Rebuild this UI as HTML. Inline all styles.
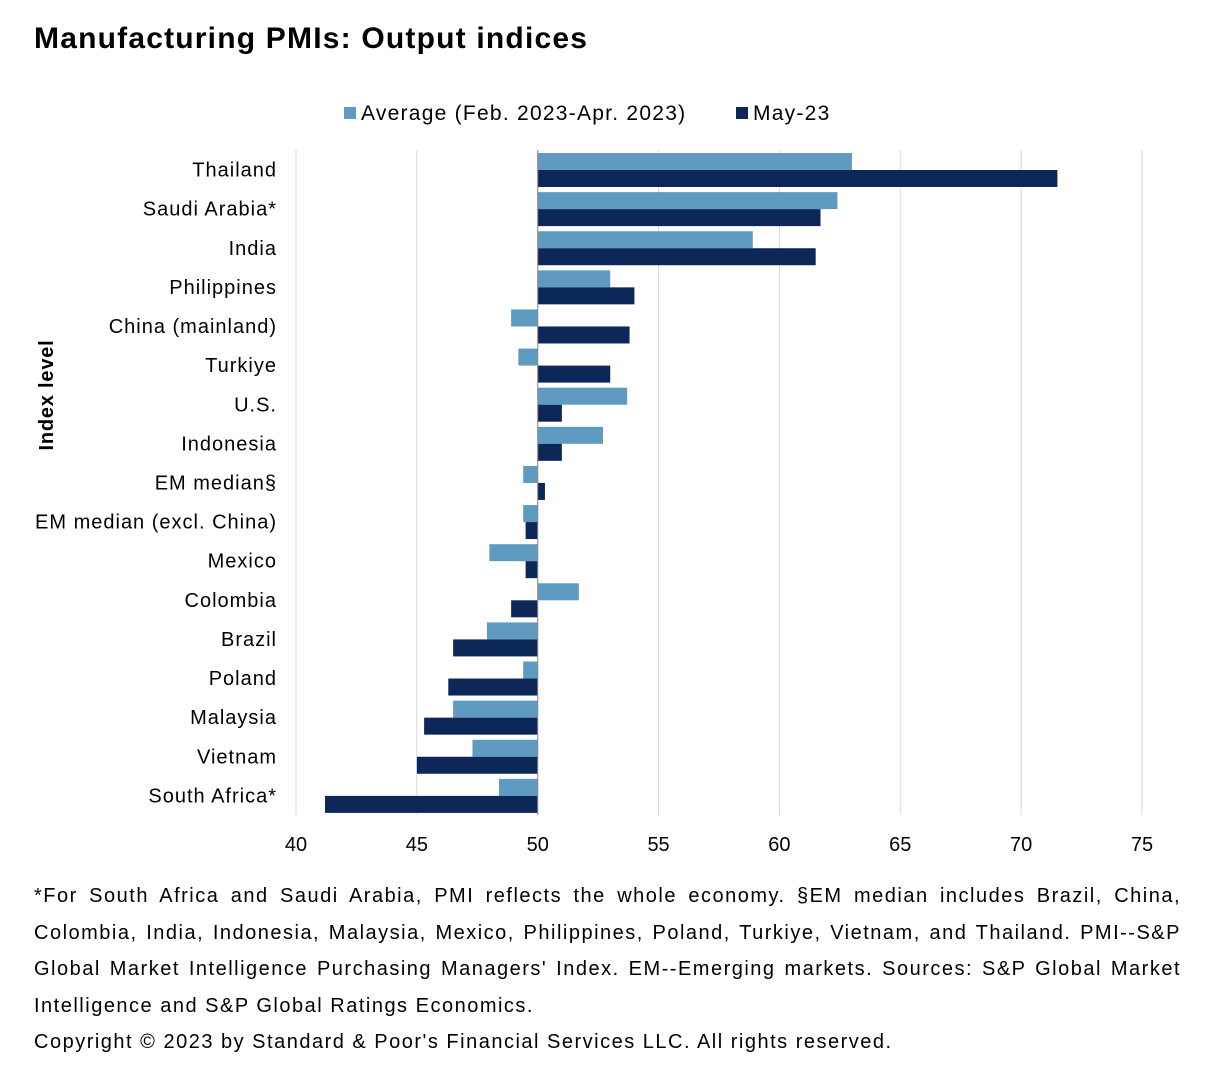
<!DOCTYPE html>
<html><head><meta charset="utf-8"><style>
body{margin:0;background:#fff;font-family:"Liberation Sans",Arial,sans-serif;}
#wrap{position:relative;width:1222px;height:1084px;overflow:hidden}
.title{position:absolute;left:34px;top:22px;font-size:30px;font-weight:bold;color:#000;letter-spacing:1.2px}
.foot{position:absolute;left:34px;top:878px;width:1147px;font-size:20px;line-height:36.5px;text-align:justify;color:#000;letter-spacing:1.5px}
</style></head><body><div id="wrap">
<div class="title">Manufacturing PMIs: Output indices</div>
<svg id="chart" width="1222" height="870" style="position:absolute;left:0;top:0"></svg>
<div class="foot">*For South Africa and Saudi Arabia, PMI reflects the whole economy. §EM median includes Brazil, China, Colombia, India, Indonesia, Malaysia, Mexico, Philippines, Poland, Turkiye, Vietnam, and Thailand. PMI--S&amp;P Global Market Intelligence Purchasing Managers' Index. EM--Emerging markets. Sources: S&amp;P Global Market Intelligence and S&amp;P Global Ratings Economics.<br><span style="display:inline-block;text-align:left">Copyright © 2023 by Standard &amp; Poor's Financial Services LLC. All rights reserved.</span></div>
</div>
<script>
const categories=["Thailand","Saudi Arabia*","India","Philippines","China (mainland)","Turkiye","U.S.","Indonesia","EM median§","EM median (excl. China)","Mexico","Colombia","Brazil","Poland","Malaysia","Vietnam","South Africa*"];
const avgValues=[63.0,62.4,58.9,53.0,48.9,49.2,53.7,52.7,49.4,49.4,48.0,51.7,47.9,49.4,46.5,47.3,48.4];
const mayValues=[71.5,61.7,61.5,54.0,53.8,53.0,51.0,51.0,50.3,49.5,49.5,48.9,46.5,46.3,45.3,45.0,41.2];
const xTicks=[40,45,50,55,60,65,70,75];
const seriesNames=["Average (Feb. 2023-Apr. 2023)","May-23"];
const NS="http://www.w3.org/2000/svg";
const svg=document.getElementById('chart');
const X0=296,X1=1142,XMIN=40,XMAX=75,Y0=150,Y1=815,BASE=50;
const x=v=>X0+(v-XMIN)/(XMAX-XMIN)*(X1-X0);
const band=(Y1-Y0)/categories.length;
const y=i=>Y0+i*band;
function mk(t,a){const e=document.createElementNS(NS,t);for(const k in a)e.setAttribute(k,a[k]);svg.appendChild(e);return e;}
xTicks.forEach(t=>{
 const g=mk('line',{x1:x(t),x2:x(t),y1:Y0,y2:Y1,stroke:'#d9d9d9','stroke-width':1});
 
 
 const l=mk('text',{x:x(t),y:851,'text-anchor':'middle','font-size':20,fill:'#000'});
 l.textContent=t;
 
 
});
const cols=['#5f9ac1','#0d2858'];
categories.forEach((c,i)=>{
 const top=y(i)+3,bh=17;
 [avgValues[i],mayValues[i]].forEach((v,s)=>{
  const a=Math.min(x(v),x(BASE)),w=Math.abs(x(v)-x(BASE));
  const r=mk('rect',{x:a,y:top+s*bh,width:w,height:bh,fill:cols[s]});
  
  
 });
 const l=mk('text',{x:277,y:y(i)+band/2+7,'text-anchor':'end','font-size':20,fill:'#000','letter-spacing':'1px'});
 l.textContent=c;
 
 
});
const ax=mk('line',{x1:x(BASE),x2:x(BASE),y1:Y0,y2:Y1,stroke:'#888','stroke-width':1});


const yt=mk('text',{x:0,y:0,transform:'translate(53,395) rotate(-90)','text-anchor':'middle','font-size':20,'font-weight':'bold',fill:'#000','letter-spacing':'0.8px'});
yt.textContent='Index level';


const lx=[344,736];
seriesNames.forEach((n,s)=>{
 const r=mk('rect',{x:lx[s],y:107,width:12,height:12,fill:cols[s]});
 
 
 const t=mk('text',{x:lx[s]+17,y:120,'font-size':21,fill:'#000','letter-spacing':'1.25px'});
 t.textContent=n;
 
 
});
</script></body></html>
